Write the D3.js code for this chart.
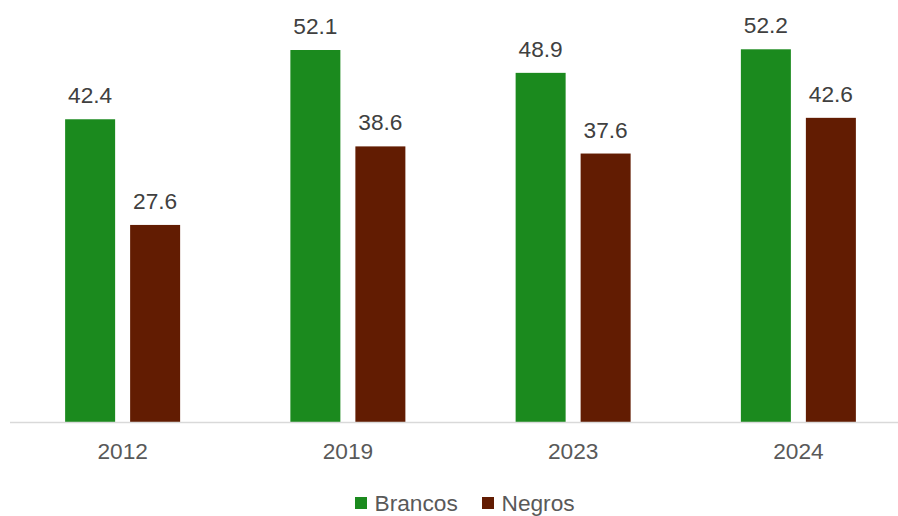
<!DOCTYPE html>
<html>
<head>
<meta charset="utf-8">
<script src="https://cdn.jsdelivr.net/npm/d3@7"></script>
<style>
  html, body { margin: 0; padding: 0; background: #fff; }
  svg { display: block; font-family: "Liberation Sans", Arial, sans-serif; }
</style>
</head>
<body>
<svg id="chart" width="898" height="516"></svg>
<script>
// Years on the category axis
const years = ["2012", "2019", "2023", "2024"];
// Series names and values (one value per year)
const seriesNames = ["Brancos", "Negros"];
const brancos = [42.4, 52.1, 48.9, 52.2];
const negros = [27.6, 38.6, 37.6, 42.6];
const seriesColors = ["#1B8A1E", "#621C02"];

const values = [brancos, negros];
const svg = d3.select("#chart");
const fontSize = "22.7px";

const baseY = 422;
const x0 = d3.scaleBand().domain(years).range([10, 911]).padding(0);
const x1 = d3.scaleBand().domain(seriesNames)
  .range([x0.bandwidth() / 2 - 57.5, x0.bandwidth() / 2 + 57.5])
  .paddingInner(15 / 65).paddingOuter(0);
const y = d3.scaleLinear().domain([0, 60]).range([baseY, baseY - 7.14 * 60]);

const groups = svg.selectAll("g.year")
  .data(years)
  .join("g")
  .attr("class", "year")
  .attr("transform", d => `translate(${x0(d)},0)`);

seriesNames.forEach((s, si) => {
  groups.append("rect")
    .attr("x", x1(s))
    .attr("width", x1.bandwidth())
    .attr("y", (d, i) => y(values[si][i]))
    .attr("height", (d, i) => baseY - y(values[si][i]))
    .attr("fill", seriesColors[si]);

  groups.append("text")
    .attr("x", x1(s) + x1.bandwidth() / 2)
    .attr("y", (d, i) => y(values[si][i]) - 16)
    .attr("text-anchor", "middle")
    .attr("font-size", fontSize)
    .attr("fill", "#404040")
    .text((d, i) => values[si][i].toFixed(1));
});

// Category axis: baseline and year labels
const axis = d3.axisBottom(x0).tickSize(0).tickPadding(0);
const axisG = svg.append("g").attr("transform", `translate(0,${baseY})`).call(axis);
axisG.select(".domain").remove();
axisG.selectAll("text")
  .attr("y", 37)
  .attr("dy", 0)
  .attr("font-size", fontSize)
  .attr("font-family", "Liberation Sans, Arial, sans-serif")
  .attr("fill", "#595959");
svg.append("line")
  .attr("x1", 10).attr("x2", 898)
  .attr("y1", baseY + 0.5).attr("y2", baseY + 0.5)
  .attr("stroke", "#d9d9d9").attr("stroke-width", 1.5);

// Legend
const legendItems = [
  { name: seriesNames[0], color: seriesColors[0], x: 355 },
  { name: seriesNames[1], color: seriesColors[1], x: 482 }
];
const legend = svg.append("g");
legendItems.forEach(it => {
  legend.append("rect")
    .attr("x", it.x).attr("y", 497)
    .attr("width", 12).attr("height", 12)
    .attr("fill", it.color);
  legend.append("text")
    .attr("x", it.x + 19.5).attr("y", 511)
    .attr("font-size", fontSize)
    .attr("fill", "#595959")
    .text(it.name);
});
</script>
</body>
</html>
